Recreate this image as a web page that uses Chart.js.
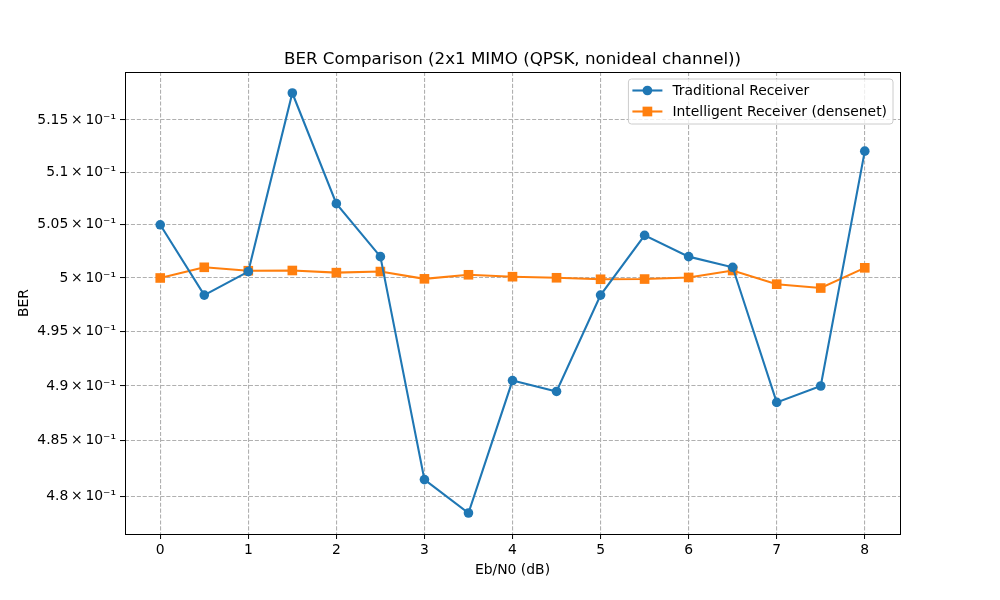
<!DOCTYPE html>
<html>
<head>
<meta charset="utf-8">
<script src="https://cdn.jsdelivr.net/npm/chart.js@4"></script>
<style>
  html, body { margin: 0; padding: 0; background: #ffffff; }
  #wrap { width: 1000px; height: 600px; position: relative; }
</style>
</head>
<body>
<div id="wrap"><canvas id="c" width="1000" height="600"></canvas></div>
<script>
// ---- data ----
const chartTitle = 'BER Comparison (2x1 MIMO (QPSK, nonideal channel))';
const xLabel = 'Eb/N0 (dB)';
const yLabel = 'BER';
const ebn0 = [0, 0.5, 1, 1.5, 2, 2.5, 3, 3.5, 4, 4.5, 5, 5.5, 6, 6.5, 7, 7.5, 8];
const seriesNames = ['Traditional Receiver', 'Intelligent Receiver (densenet)'];
const traditional = [0.505, 0.4984, 0.5006, 0.5176, 0.507, 0.502, 0.4815, 0.4785, 0.4905, 0.4895,
                     0.4984, 0.504, 0.502, 0.501, 0.4885, 0.49, 0.512];
const intelligent = [0.5, 0.501, 0.50068, 0.5007, 0.5005, 0.5006, 0.49992, 0.5003, 0.50012, 0.50002,
                     0.49988, 0.4999, 0.50005, 0.5007, 0.49942, 0.49906, 0.50095];
const xTicks = [0, 1, 2, 3, 4, 5, 6, 7, 8];
const yTicks = [0.48, 0.485, 0.49, 0.495, 0.5, 0.505, 0.51, 0.515];
const yTickLabels = ['4.8', '4.85', '4.9', '4.95', '5', '5.05', '5.1', '5.15'];

const FONT = 'DejaVu Sans';
const colors = ['#1f77b4', '#ff7f0e'];

// matplotlib-like 5% margins in log space
const allY = traditional.concat(intelligent);
const lmin = Math.log10(Math.min(...allY)), lmax = Math.log10(Math.max(...allY));
const lpad = (lmax - lmin) * 0.05;
const yMin = Math.pow(10, lmin - lpad), yMax = Math.pow(10, lmax + lpad);
const xPad = (ebn0[ebn0.length - 1] - ebn0[0]) * 0.05;

const toPts = (ys) => ebn0.map((x, i) => ({ x: x, y: ys[i] }));

const framePlugin = {
  id: 'frame',
  afterDatasetsDraw(chart) {
    const { ctx, chartArea: a } = chart;
    ctx.save();
    ctx.strokeStyle = '#000';
    ctx.lineWidth = 1;
    ctx.strokeRect(Math.round(a.left) + 0.5, Math.round(a.top) + 0.5,
                   Math.round(a.right - a.left), Math.round(a.bottom - a.top));
    ctx.restore();
  },
  afterDraw(chart) {
    const { ctx, chartArea: a } = chart;
    ctx.save();
    // title, centred over the axes
    ctx.font = '16.7px "' + FONT + '"';
    ctx.fillStyle = '#000';
    ctx.textAlign = 'center';
    ctx.textBaseline = 'middle';
    ctx.fillText(chartTitle, (a.left + a.right) / 2, a.top - 12);

    // legend in the upper right, inside axes
    const ds = chart.data.datasets;
    ctx.font = '13.9px "' + FONT + '"';
    let maxW = 0;
    ds.forEach(d => { maxW = Math.max(maxW, ctx.measureText(d.label).width); });
    const w = 4 + 30 + 10 + maxW + 6;
    const h = 45;
    const x0 = a.right - 7 - w, y0 = a.top + 7;
    const r = 3;
    ctx.beginPath();
    ctx.moveTo(x0 + r, y0);
    ctx.arcTo(x0 + w, y0, x0 + w, y0 + h, r);
    ctx.arcTo(x0 + w, y0 + h, x0, y0 + h, r);
    ctx.arcTo(x0, y0 + h, x0, y0, r);
    ctx.arcTo(x0, y0, x0 + w, y0, r);
    ctx.closePath();
    ctx.fillStyle = 'rgba(255,255,255,0.8)';
    ctx.fill();
    ctx.strokeStyle = '#cccccc';
    ctx.lineWidth = 1;
    ctx.stroke();
    ds.forEach((d, i) => {
      const cy = y0 + 11.5 + i * 21;
      const lx = x0 + 4;
      ctx.strokeStyle = d.borderColor;
      ctx.lineWidth = 2.1;
      ctx.beginPath();
      ctx.moveTo(lx, cy);
      ctx.lineTo(lx + 30, cy);
      ctx.stroke();
      ctx.fillStyle = d.borderColor;
      if (d.pointStyle === 'rect') {
        ctx.fillRect(lx + 15 - 4.85, cy - 4.85, 9.7, 9.7);
      } else {
        ctx.beginPath();
        ctx.arc(lx + 15, cy, 4.85, 0, Math.PI * 2);
        ctx.fill();
      }
      ctx.fillStyle = '#000';
      ctx.textBaseline = 'middle';
      ctx.textAlign = 'left';
      ctx.fillText(d.label, lx + 40, cy + 0.5);
    });
    ctx.restore();
  }
};

const sup = '\u207B\u00B9';

new Chart(document.getElementById('c'), {
  type: 'line',
  data: {
    datasets: [
      {
        label: seriesNames[0],
        data: toPts(traditional),
        borderColor: colors[0],
        backgroundColor: colors[0],
        borderWidth: 2.1,
        pointStyle: 'circle',
        pointRadius: 4.8,
        pointBorderWidth: 0,
        pointHoverRadius: 4.8,
        tension: 0,
        fill: false
      },
      {
        label: seriesNames[1],
        data: toPts(intelligent),
        borderColor: colors[1],
        backgroundColor: colors[1],
        borderWidth: 2.1,
        pointStyle: 'rect',
        pointRadius: 6.8,
        pointBorderWidth: 0,
        pointHoverRadius: 6.8,
        tension: 0,
        fill: false
      }
    ]
  },
  options: {
    responsive: false,
    animation: false,
    devicePixelRatio: 1,
    layout: { padding: { left: 0, right: 100, top: 72, bottom: 0 } },
    plugins: {
      legend: { display: false },
      tooltip: { enabled: false },
      title: { display: false }
    },
    scales: {
      x: {
        type: 'linear',
        min: ebn0[0] - xPad,
        max: ebn0[ebn0.length - 1] + xPad,
        afterBuildTicks: (s) => { s.ticks = xTicks.map(v => ({ value: v })); },
        afterFit: (s) => { s.height = 66; },
        ticks: {
          color: '#000',
          font: { family: FONT, size: 13.9 },
          padding: 3,
          maxRotation: 0,
          autoSkip: false,
          callback: (v) => String(v)
        },
        grid: { color: '#b0b0b0', lineWidth: 1.1, tickColor: '#000', tickLength: 5, tickWidth: 1 },
        border: { display: false, dash: [4.1, 1.8] },
        title: {
          display: true,
          text: xLabel,
          color: '#000',
          font: { family: FONT, size: 13.9, lineHeight: 1.2 },
          padding: { top: 0, bottom: 21 }
        }
      },
      y: {
        type: 'logarithmic',
        min: yMin,
        max: yMax,
        afterBuildTicks: (s) => { s.ticks = yTicks.map(v => ({ value: v })); },
        afterFit: (s) => { s.width = 125; },
        ticks: {
          color: '#000',
          font: { family: FONT, size: 13.9 },
          padding: 4,
          autoSkip: false,
          callback: (v) => {
            const i = yTicks.findIndex(t => Math.abs(t - v) < 1e-9);
            return (i >= 0 ? yTickLabels[i] : String(v * 10)) + '\u2009\u00D7\u200910' + sup;
          }
        },
        grid: { color: '#b0b0b0', lineWidth: 1.1, tickColor: '#000', tickLength: 5, tickWidth: 1 },
        border: { display: false, dash: [4.1, 1.8] },
        title: {
          display: true,
          text: yLabel,
          color: '#000',
          font: { family: FONT, size: 13.9, lineHeight: 1.2 },
          padding: { top: 16, bottom: 0 }
        }
      }
    }
  },
  plugins: [framePlugin]
});
</script>
</body>
</html>
